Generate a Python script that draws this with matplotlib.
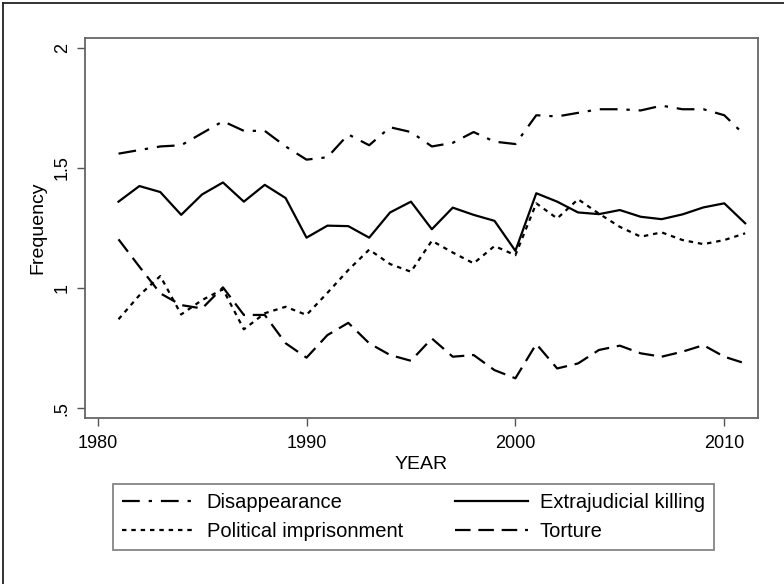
import numpy as np
import matplotlib
matplotlib.use("Agg")
import matplotlib.pyplot as plt
from matplotlib.lines import Line2D

plt.rcParams['font.family'] = ['Liberation Sans', 'DejaVu Sans']

years = list(range(1981, 2012))

disappearance = [1.56, 1.575, 1.59, 1.595, 1.645, 1.695, 1.655, 1.655, 1.59, 1.535,
                 1.545, 1.64, 1.595, 1.67, 1.65, 1.59, 1.605, 1.65, 1.61, 1.60,
                 1.72, 1.715, 1.73, 1.745, 1.745, 1.74, 1.76, 1.745, 1.745, 1.72, 1.635]

extrajudicial = [1.36, 1.425, 1.40, 1.305, 1.39, 1.44, 1.36, 1.43, 1.375, 1.21,
                 1.26, 1.258, 1.21, 1.315, 1.36, 1.245, 1.335, 1.305, 1.28, 1.155,
                 1.395, 1.36, 1.315, 1.308, 1.325, 1.297, 1.287, 1.307, 1.336, 1.353, 1.27]

political = [0.87, 0.97, 1.05, 0.89, 0.95, 0.995, 0.828, 0.895, 0.922, 0.888,
             0.98, 1.075, 1.16, 1.10, 1.068, 1.197, 1.148, 1.103, 1.175, 1.137,
             1.353, 1.29, 1.37, 1.31, 1.255, 1.214, 1.232, 1.20, 1.183, 1.20, 1.228]

torture = [1.203, 1.089, 0.978, 0.929, 0.915, 1.003, 0.888, 0.888, 0.77, 0.71,
           0.804, 0.855, 0.77, 0.721, 0.697, 0.79, 0.714, 0.721, 0.658, 0.624,
           0.767, 0.665, 0.686, 0.742, 0.76, 0.728, 0.714, 0.735, 0.762, 0.714, 0.686]

fig = plt.figure(figsize=(7.84, 5.84), dpi=100)
ax = fig.add_axes([0.108, 0.284, 0.859, 0.651])

lw = 1.6
ax.plot(years, disappearance, color='black', lw=lw, dashes=(8, 4, 1.5, 4),
        label='Disappearance')
ax.plot(years, extrajudicial, color='black', lw=lw, label='Extrajudicial killing')
ax.plot(years, political, color='black', lw=lw, dashes=(2, 2.2),
        label='Political imprisonment')
ax.plot(years, torture, color='black', lw=lw, dashes=(7, 3.5), label='Torture')

ax.set_xlim(1979.38, 2011.62)
ax.set_ylim(0.458, 2.042)
ax.set_xticks([1980, 1990, 2000, 2010])
ax.set_yticks([0.5, 1, 1.5, 2])
ax.set_yticklabels(['.5', '1', '1.5', '2'], rotation=90, va='center')
ax.tick_params(direction='out', length=6, width=1, color='#555555', labelsize=13)
ax.tick_params(axis='x', pad=6)
ax.tick_params(axis='y', pad=4)
for s in ax.spines.values():
    s.set_color('#666666')
    s.set_linewidth(1.3)

ax.set_xlabel('YEAR', fontsize=14, labelpad=3)
ax.set_ylabel('Frequency', fontsize=14, labelpad=5)

# order: Disappearance, Political | Extrajudicial, Torture
h, l = ax.get_legend_handles_labels()
order = [0, 2, 1, 3]
leg = fig.legend([h[i] for i in order], [l[i] for i in order], ncol=2,
                 loc='upper left', bbox_to_anchor=(113 / 784, 1 - 484 / 584),
                 frameon=True, fancybox=False, edgecolor='#666666',
                 fontsize=14.5, handlelength=3.6, handletextpad=0.6,
                 columnspacing=2.6, borderpad=0.45, labelspacing=0.5,
                 borderaxespad=0)
leg.get_frame().set_linewidth(1.3)

# outer frame lines (left and top) of the graph region
fig.add_artist(Line2D([0.004, 0.004], [0, 0.995], transform=fig.transFigure,
                      color='#222222', lw=1.3))
fig.add_artist(Line2D([0.004, 1], [0.995, 0.995], transform=fig.transFigure,
                      color='#222222', lw=1.3))

fig.savefig('out.png', dpi=100)
